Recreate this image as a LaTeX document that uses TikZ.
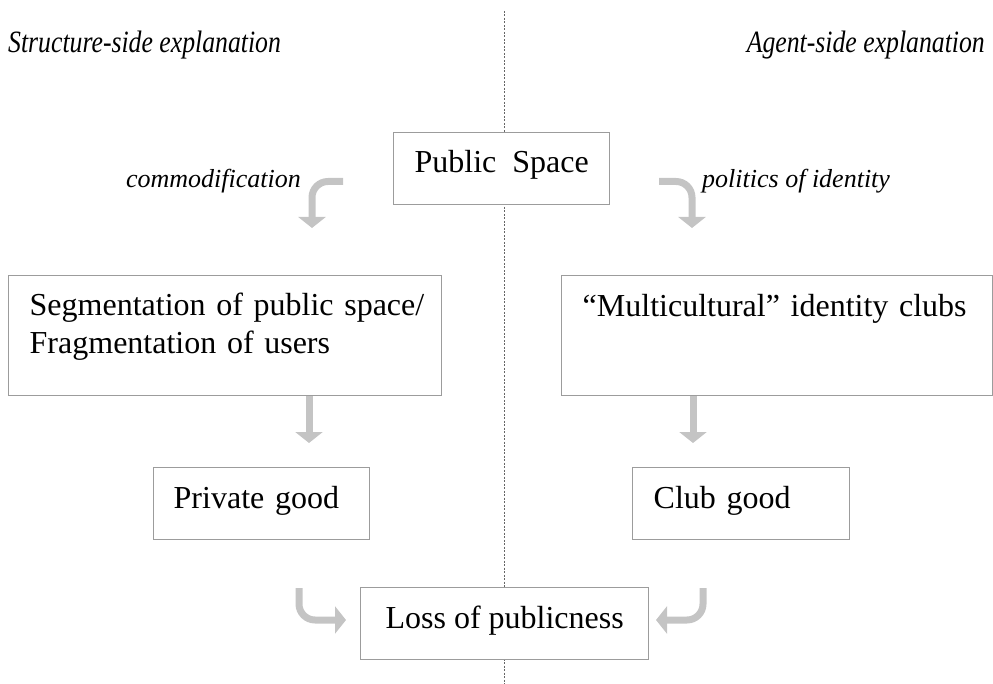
\documentclass[tikz,border=0pt]{standalone}
\usepackage{fontspec}
\setmainfont{Liberation Serif}
\usetikzlibrary{arrows.meta}
\definecolor{boxgray}{HTML}{9C9C9C}
\definecolor{arrowgray}{HTML}{C4C4C4}
\definecolor{linegray}{HTML}{666666}
\newcommand{\narrowhead}[1]{\scalebox{0.83}[1]{#1}}
\tikzset{
  box/.style={draw=boxgray, line width=1.4pt, fill=white, inner ysep=0pt, inner xsep=21pt,
    text height=41pt, text depth=31pt, font=\fontsize{32}{38}\selectfont, anchor=north west, align=left},
  side/.style={font=\fontsize{26}{30}\selectfont\itshape, inner sep=0pt},
  heading/.style={font=\fontsize{31}{36}\selectfont\itshape, inner sep=0pt},
  flow/.style={draw=arrowgray, line width=7pt, -{Triangle[width=27pt,length=11pt]}},
  turnflow/.style={flow, rounded corners=16pt},
}
\begin{document}
\begin{tikzpicture}[x=1pt, y=-1pt]
    % 1. Canvas
    \useasboundingbox (0,0) rectangle (993,684);

    % 2. Dashed divider
    \draw[linegray, line width=0.8pt, dash pattern=on 2pt off 1.5pt] (504,11) -- (504,684);

    % 3. Headings
    \node[heading, anchor=base west] (structure) at (8,53) {\narrowhead{Structure-side explanation}};
    \node[heading, anchor=base east] (agent) at (985,53) {\narrowhead{Agent-side explanation}};

    % 4. Boxes
    \node[box, align=center, inner xsep=0pt, minimum width=216pt, text height=40pt, text depth=32pt]
        (public) at (393,132) {Public\ \ Space};
    \node[box, text width=391pt, text height=40pt, text depth=80pt]
        (segment) at (8,275) {\mbox{Segmentation of public space/}\\Fragmentation of users};
    \node[box, text width=389pt, text depth=79pt]
        (clubs) at (561,275) {“Multicultural” identity clubs};
    \node[box, text width=176pt, inner xsep=20pt] (private) at (153,467) {Private good};
    \node[box, text width=175pt] (clubgood) at (632,467) {Club good};
    \node[box, align=center, inner xsep=0pt, minimum width=288pt] (loss) at (360,587) {Loss of publicness};

    % 5. Arrow labels
    \node[side, anchor=base east] (commod) at (301,188) {commodification};
    \node[side, anchor=base west] (identity) at (702,188) {politics of identity};

    % 6. Arrow ends
    \coordinate (commodA) at (343,181.5);
    \coordinate (commodB) at (312,228);
    \coordinate (identA) at (659,181.5);
    \coordinate (identB) at (692,228);
    \coordinate (segB) at (309,443);
    \coordinate (clubB) at (693,443);
    \coordinate (privA) at (299,588);
    \coordinate (privB) at (346,620);
    \coordinate (cgoodA) at (703,588);
    \coordinate (cgoodB) at (656,620);

    % 7. Arrows
    \draw[turnflow] (commodA) -- (commodA -| commodB) -- (commodB);
    \draw[turnflow] (identA) -- (identA -| identB) -- (identB);
    \draw[flow] (segment.south -| segB) -- (segB);
    \draw[flow] (clubs.south -| clubB) -- (clubB);
    \draw[turnflow] (privA) -- (privA |- privB) -- (privB);
    \draw[turnflow] (cgoodA) -- (cgoodA |- cgoodB) -- (cgoodB);
\end{tikzpicture}
\end{document}
